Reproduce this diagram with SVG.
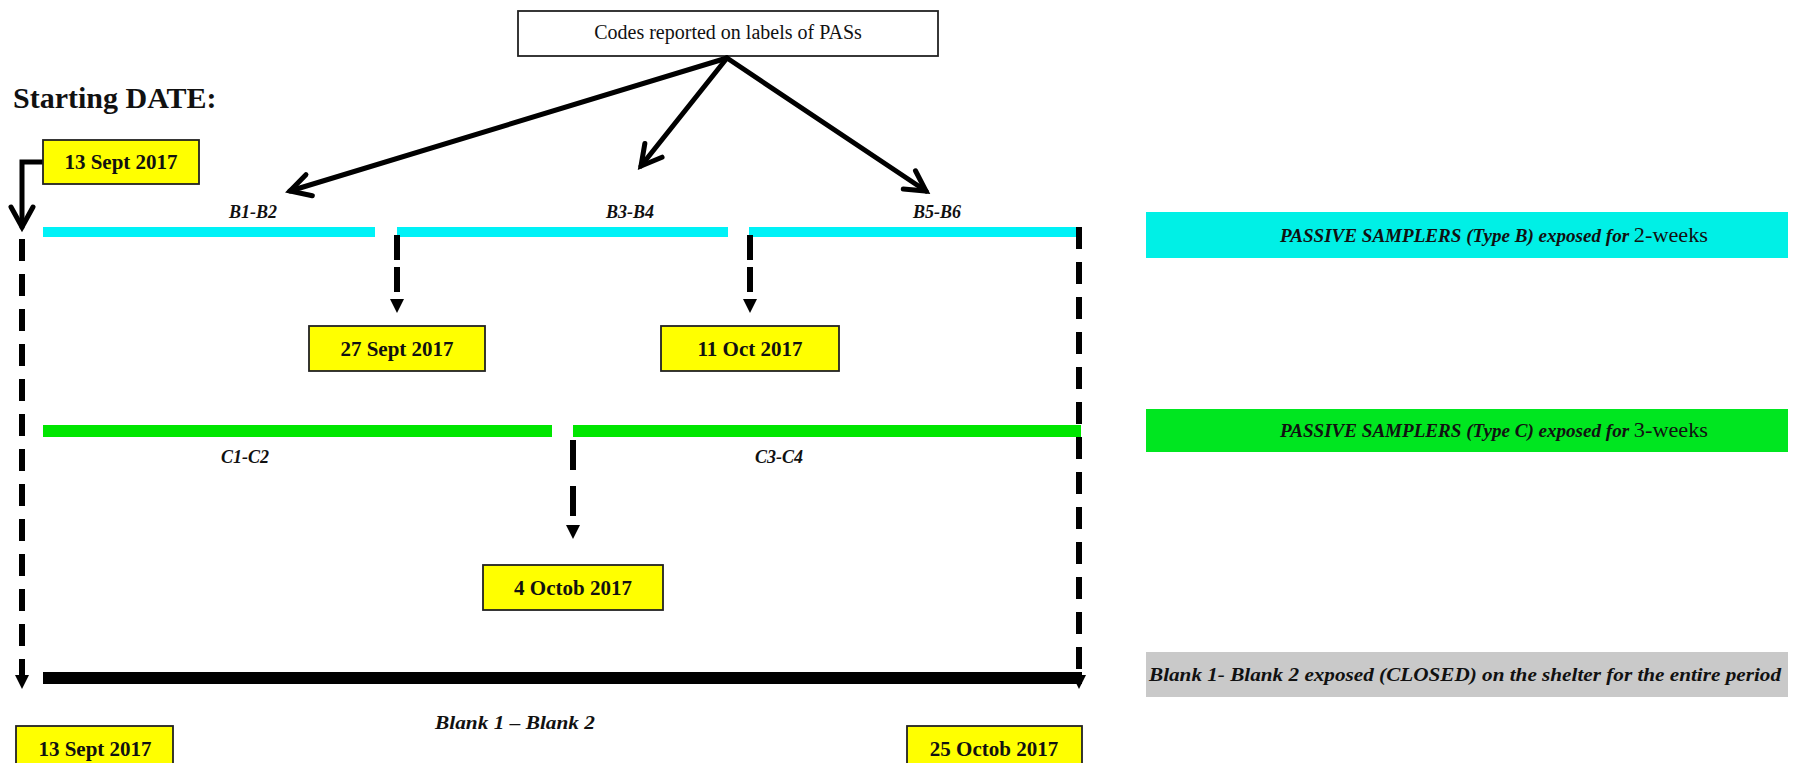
<svg xmlns="http://www.w3.org/2000/svg" width="1805" height="763" viewBox="0 0 1805 763">
<style>
.lbl{font-family:"Liberation Serif",serif;font-weight:bold;font-style:italic;font-size:18px;fill:#111;text-anchor:middle}
.date{font-family:"Liberation Serif",serif;font-weight:bold;font-size:21px;fill:#111;text-anchor:middle}
.dbox{fill:#FFFF00;stroke:#222;stroke-width:1.8}
.cyan{fill:#00F2F7}
.green{fill:#00E600}
.dash{stroke:#000;stroke-width:6;fill:none;stroke-dasharray:22 13}
.sdash{stroke:#000;stroke-width:6;fill:none;stroke-dasharray:25 7}
.arr{stroke:#000;stroke-width:5;fill:none;stroke-linecap:round}
.leg{font-family:"Liberation Serif",serif;font-weight:bold;font-style:italic;font-size:18px;fill:#111}
.legn{font-style:normal;font-weight:normal;font-size:21px}
</style>
<defs>
<marker id="chev" markerUnits="userSpaceOnUse" viewBox="-26 -16 32 32" refX="0" refY="0" markerWidth="32" markerHeight="32" orient="auto" overflow="visible">
<path d="M-20,-11 L0,0 L-20,11" fill="none" stroke="#000" stroke-width="5" stroke-linecap="round" stroke-linejoin="miter"/>
</marker>
<marker id="tri" markerUnits="userSpaceOnUse" viewBox="0 0 14 14" refX="0" refY="7" markerWidth="14" markerHeight="14" orient="auto">
<path d="M0,0 L14,7 L0,14 z" fill="#000"/>
</marker>
</defs>
<rect width="1805" height="763" fill="#fff"/>

<g id="title">
<text x="13" y="108" style="font-family:'Liberation Serif',serif;font-weight:bold;font-size:30px;fill:#111">Starting DATE:</text>
</g>

<g id="codes">
<rect x="518" y="11" width="420" height="45" fill="#fff" stroke="#222" stroke-width="1.8"/>
<text x="728" y="39" style="font-family:'Liberation Serif',serif;font-size:20px;fill:#111;text-anchor:middle">Codes reported on labels of PASs</text>
</g>

<g id="bars">
<rect class="cyan" x="43" y="227" width="332" height="10"/>
<rect class="cyan" x="397" y="227" width="331" height="10"/>
<rect class="cyan" x="749" y="227" width="331" height="10"/>
<rect class="green" x="43" y="425" width="509" height="12"/>
<rect class="green" x="573" y="425" width="508" height="12"/>
<rect x="43" y="672" width="1039" height="12" fill="#000"/>
</g>

<g id="labels">
<text class="lbl" x="253" y="218">B1-B2</text>
<text class="lbl" x="630" y="218">B3-B4</text>
<text class="lbl" x="937" y="218">B5-B6</text>
<text class="lbl" x="245" y="463">C1-C2</text>
<text class="lbl" x="779" y="463">C3-C4</text>
<text class="lbl" x="515" y="729" textLength="160" lengthAdjust="spacingAndGlyphs">Blank 1 – Blank 2</text>
</g>

<g id="connectors">
<line class="arr" x1="727" y1="58" x2="290" y2="191" marker-end="url(#chev)"/>
<line class="arr" x1="727" y1="58" x2="641" y2="166" marker-end="url(#chev)"/>
<line class="arr" x1="727" y1="58" x2="926" y2="191" marker-end="url(#chev)"/>
<polyline class="arr" points="43,162 22,162 22,227" marker-end="url(#chev)" stroke-linecap="butt"/>
<line class="dash" x1="22" y1="239" x2="22" y2="675" marker-end="url(#tri)"/>
<line class="dash" x1="1079" y1="227" x2="1079" y2="675" marker-end="url(#tri)"/>
<line class="sdash" x1="397" y1="235" x2="397" y2="299" marker-end="url(#tri)"/>
<line class="sdash" x1="750" y1="235" x2="750" y2="299" marker-end="url(#tri)"/>
<line class="dash" x1="573" y1="440" x2="573" y2="525" style="stroke-dasharray:30 16" marker-end="url(#tri)"/>
</g>

<g id="d-13sep-top">
<rect class="dbox" x="43" y="140" width="156" height="44"/>
<text class="date" x="121" y="169">13 Sept 2017</text>
</g>
<g id="d-27sep">
<rect class="dbox" x="309" y="326" width="176" height="45"/>
<text class="date" x="397" y="356">27 Sept 2017</text>
</g>
<g id="d-11oct">
<rect class="dbox" x="661" y="326" width="178" height="45"/>
<text class="date" x="750" y="356">11 Oct 2017</text>
</g>
<g id="d-4oct">
<rect class="dbox" x="483" y="565" width="180" height="45"/>
<text class="date" x="573" y="595">4 Octob 2017</text>
</g>
<g id="d-13sep-bottom">
<rect class="dbox" x="16" y="726" width="157" height="50"/>
<text class="date" x="95" y="756">13 Sept 2017</text>
</g>
<g id="d-25oct">
<rect class="dbox" x="907" y="726" width="175" height="50"/>
<text class="date" x="994" y="756">25 Octob 2017</text>
</g>

<g id="legend-b">
<rect x="1146" y="212" width="642" height="46" fill="#00F0E6"/>
<text class="leg" x="1280" y="242" textLength="428" lengthAdjust="spacingAndGlyphs">PASSIVE SAMPLERS (Type B) exposed for <tspan class="legn">2-weeks</tspan></text>
</g>
<g id="legend-c">
<rect x="1146" y="409" width="642" height="43" fill="#00E620"/>
<text class="leg" x="1280" y="437" textLength="428" lengthAdjust="spacingAndGlyphs">PASSIVE SAMPLERS (Type C) exposed for <tspan class="legn">3-weeks</tspan></text>
</g>
<g id="legend-blank">
<rect x="1146" y="652" width="642" height="45" fill="#C9C9C9"/>
<text class="leg" x="1149" y="681" textLength="632" lengthAdjust="spacingAndGlyphs">Blank 1- Blank 2 exposed (CLOSED) on the shelter for the entire period</text>
</g>
</svg>
